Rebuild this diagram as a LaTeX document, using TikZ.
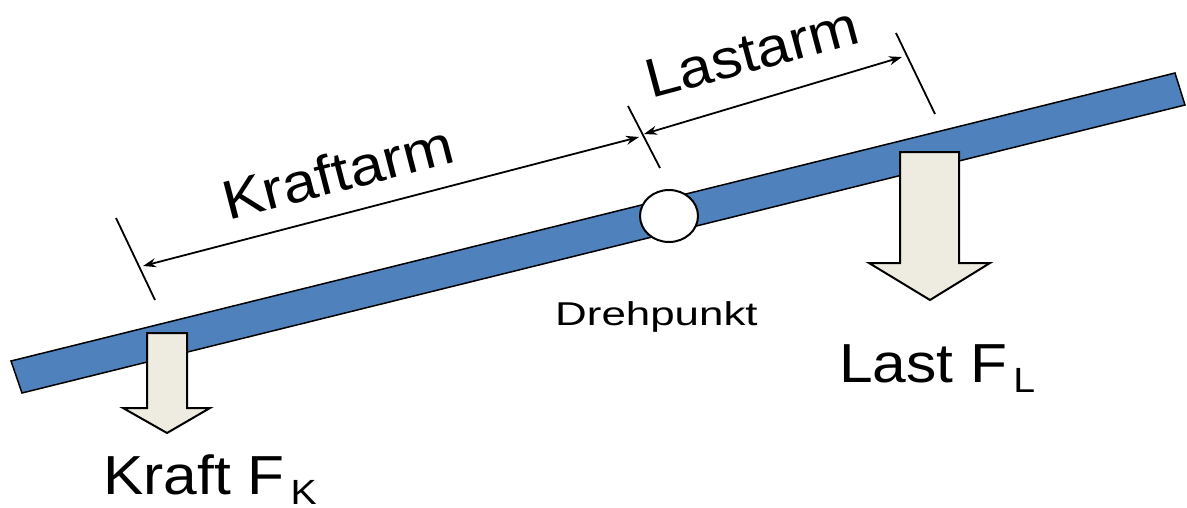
\documentclass[tikz,border=0pt]{standalone}
\usepackage{fontspec}
\setmainfont{Liberation Sans}
\usetikzlibrary{arrows.meta,shapes.geometric}
\definecolor{beamblue}{HTML}{4F81BD}
\definecolor{arrowfill}{HTML}{EEECE1}
\tikzset{
  beamstyle/.style={fill=beamblue, draw=black, line width=1.5pt, line join=miter},
  forcearrow/.style={fill=arrowfill, draw=black, line width=2pt, line join=miter},
  pivotstyle/.style={ellipse, fill=white, draw=black, line width=2pt, minimum width=58pt, minimum height=52pt, inner sep=0pt},
  tickline/.style={draw=black, line width=1.8pt},
  dimline/.style={draw=black, line width=1.8pt, {Stealth[length=13pt,width=9pt]}-{Stealth[length=13pt,width=9pt]}},
  biglabel/.style={inner sep=0pt, anchor=base west, font=\fontsize{55}{60}\selectfont},
  smalllabel/.style={inner sep=0pt, anchor=base west, font=\fontsize{33}{36}\selectfont},
}
\newcommand{\subtxt}[1]{\hspace{6pt}\raisebox{-10pt}{\fontsize{35}{36}\selectfont\scalebox{1.12}[1]{#1}}}
\begin{document}
\begin{tikzpicture}[x=1pt,y=-1pt]
\useasboundingbox (0,0) rectangle (1187,507);
% beam
\draw[beamstyle] (11,361) -- (1175,73) -- (1185,105) -- (22,393) -- cycle;
% force arrows
\draw[forcearrow] (147,333) -- (187,333) -- (187,408) -- (210,408) -- (167,433) -- (123,408) -- (147,408) -- cycle;
\draw[forcearrow] (900,152) -- (959,152) -- (959,263) -- (990,263) -- (930,300) -- (869,263) -- (900,263) -- cycle;
% pivot
\node[pivotstyle] (pivot) at (669,216) {};
% ticks
\coordinate (t1a) at (116,218); \coordinate (t1b) at (155,300);
\coordinate (t2a) at (628,106); \coordinate (t2b) at (660,168);
\coordinate (t3a) at (896,33);  \coordinate (t3b) at (935,114);
\draw[tickline] (t1a) -- (t1b);
\draw[tickline] (t2a) -- (t2b);
\draw[tickline] (t3a) -- (t3b);
% dimension arrows
\coordinate (k1) at (143,266); \coordinate (k2) at (639,137);
\coordinate (l1) at (644,134); \coordinate (l2) at (902,57);
\draw[dimline] (k1) -- (k2);
\draw[dimline] (l1) -- (l2);
% labels
\node[biglabel, rotate=14.5] (kraftarm) at (228,221) {\scalebox{1.12}[1]{Kraftarm}};
\node[biglabel, rotate=15] (lastarm) at (651,99) {\scalebox{1.1}[1]{Lastarm}};
\node[smalllabel] (dreh) at (555,325) {\scalebox{1.33}[1]{Drehpunkt}};
\node[biglabel] (last) at (839,382) {\scalebox{1.1}[1]{Last F}\subtxt{L}};
\node[biglabel] (kraft) at (103,494) {\scalebox{1.1}[1]{Kraft F}\subtxt{K}};
\end{tikzpicture}
\end{document}
